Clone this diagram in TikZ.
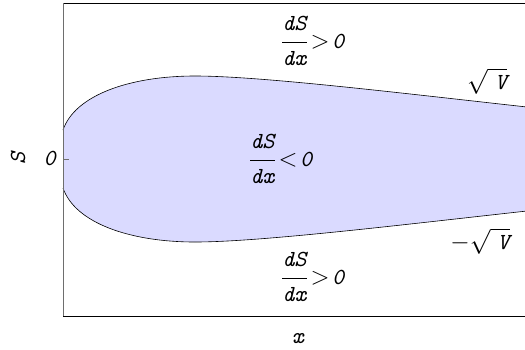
\documentclass[tikz,border=0pt]{standalone}
\usepackage{amsmath}
\usepackage{fontspec}
\usepackage{tikz}
\usetikzlibrary{positioning}
\definecolor{RegionBlue}{RGB}{218,218,255}
\definecolor{AxisGray}{RGB}{110,110,110}
\newcommand{\slope}{\dfrac{\textit{dS}\rule[-8pt]{0pt}{8pt}}{\rule{0pt}{17pt}\textit{dx}}}

\begin{document}
\begin{tikzpicture}[x=1pt,y=-1pt,
  lbl/.style={font=\fontsize{23}{27}\selectfont\ttfamily\itshape,inner sep=0pt},
]
\useasboundingbox (0,0) rectangle (525,349);
% shaded region between the two branches
\fill[RegionBlue] (63,130) .. controls (75,95) and (130,76) .. (195,76)
  .. controls (260,76) and (400,93) .. (527,107) -- (527,211)
  .. controls (400,225) and (260,242) .. (195,242)
  .. controls (130,242) and (75,223) .. (63,188) -- cycle;
% branches +sqrt(V) and -sqrt(V)
\draw[line width=0.6pt] (63,130) .. controls (75,95) and (130,76) .. (195,76)
  .. controls (260,76) and (400,93) .. (527,107);
\draw[line width=0.6pt] (63,188) .. controls (75,223) and (130,242) .. (195,242)
  .. controls (260,242) and (400,225) .. (527,211);
% frame
\draw[line width=0.7pt] (63,3) -- (527,3);
\draw[line width=0.7pt] (63,316) -- (527,316);
\draw[AxisGray,line width=0.8pt] (63,3) -- (63,316);
\draw[AxisGray,line width=0.6pt] (63,159) -- (69,159);
% labels
\node[lbl,anchor=east] (zero) at (56,158) {0};
\node[lbl,rotate=90] (ylab) at (18,158) {S};
\node[lbl] (xlab) at (298,339) {x};
\node[lbl,anchor=west] (upper) at (281,41) {$\slope\!>\!\textit{0}$};
\node[lbl,anchor=west] (middle) at (249,159) {$\slope\!<\!\textit{0}$};
\node[lbl,anchor=west] (lower) at (281,277) {$\slope\!>\!\textit{0}$};
\node[lbl] (plusroot) at (487,81) {$\sqrt{\;\textit{V}}$};
\node[lbl] (minusroot) at (480,241) {$-\sqrt{\;\textit{V}}$};
\end{tikzpicture}
\end{document}
